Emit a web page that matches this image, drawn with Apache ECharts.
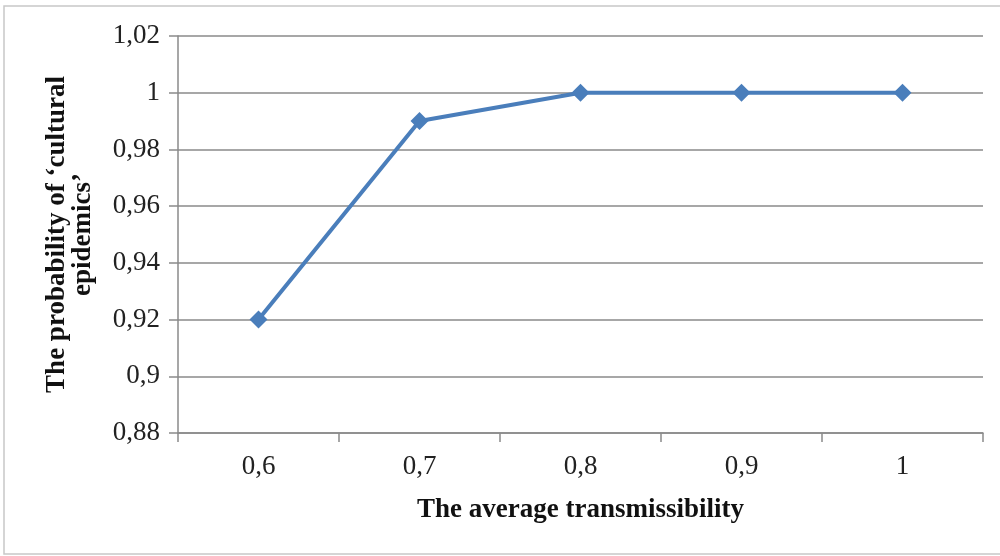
<!DOCTYPE html>
<html><head><meta charset="utf-8">
<script src="https://cdn.jsdelivr.net/npm/echarts@6/dist/echarts.min.js"></script>
<style>html,body{margin:0;padding:0;background:#fff}#c{width:1000px;height:556px}</style>
</head><body><div id="c"></div>
<script>
const categories = ['0,6','0,7','0,8','0,9','1'];
const probability = [0.92, 0.99, 1.0, 1.0, 1.0];
const yMin = 0.88, yMax = 1.02, yStep = 0.02;

const chart = echarts.init(document.getElementById('c'), null, {renderer:'canvas'});
const grey = '#8a8a8a';
const font = 'Liberation Serif';
chart.setOption({
  animation:false,
  backgroundColor:'#fff',
  graphic:[{type:'rect',shape:{x:4,y:6,width:1000,height:548},style:{fill:'none',stroke:'#c8c8c8',lineWidth:1.5},silent:true}],
  grid:{left:178,right:17,top:36,bottom:123},
  xAxis:{type:'category',data:categories,boundaryGap:true,
    axisLine:{lineStyle:{color:grey,width:1.5}},
    axisTick:{show:true,interval:0,length:9,lineStyle:{color:grey,width:1.5}},
    axisLabel:{color:'#222',fontFamily:font,fontSize:27,margin:20},
    name:'The average transmissibility',nameLocation:'middle',nameGap:64,
    nameTextStyle:{color:'#111',fontFamily:font,fontSize:27,fontWeight:'bold'}},
  yAxis:{type:'value',min:yMin,max:yMax,interval:yStep,
    axisLine:{show:true,lineStyle:{color:grey,width:1.5}},
    axisTick:{show:true,length:9,lineStyle:{color:grey,width:1.5}},
    splitLine:{lineStyle:{color:grey,width:1.5}},
    axisLabel:{color:'#222',fontFamily:font,fontSize:27,margin:18,
      formatter:v=>{const s=(Math.round(v*100)/100).toString();return s.replace('.',',');}},
    name:'The probability of \u2018cultural\nepidemics\u2019',nameLocation:'middle',nameGap:82,
    nameTextStyle:{color:'#111',fontFamily:font,fontSize:27,fontWeight:'bold',lineHeight:26}},
  series:[{type:'line',data:probability,symbol:'diamond',symbolSize:18,
    lineStyle:{color:'#4a7ebb',width:4},itemStyle:{color:'#4a7ebb'}}]
});
</script></body></html>
